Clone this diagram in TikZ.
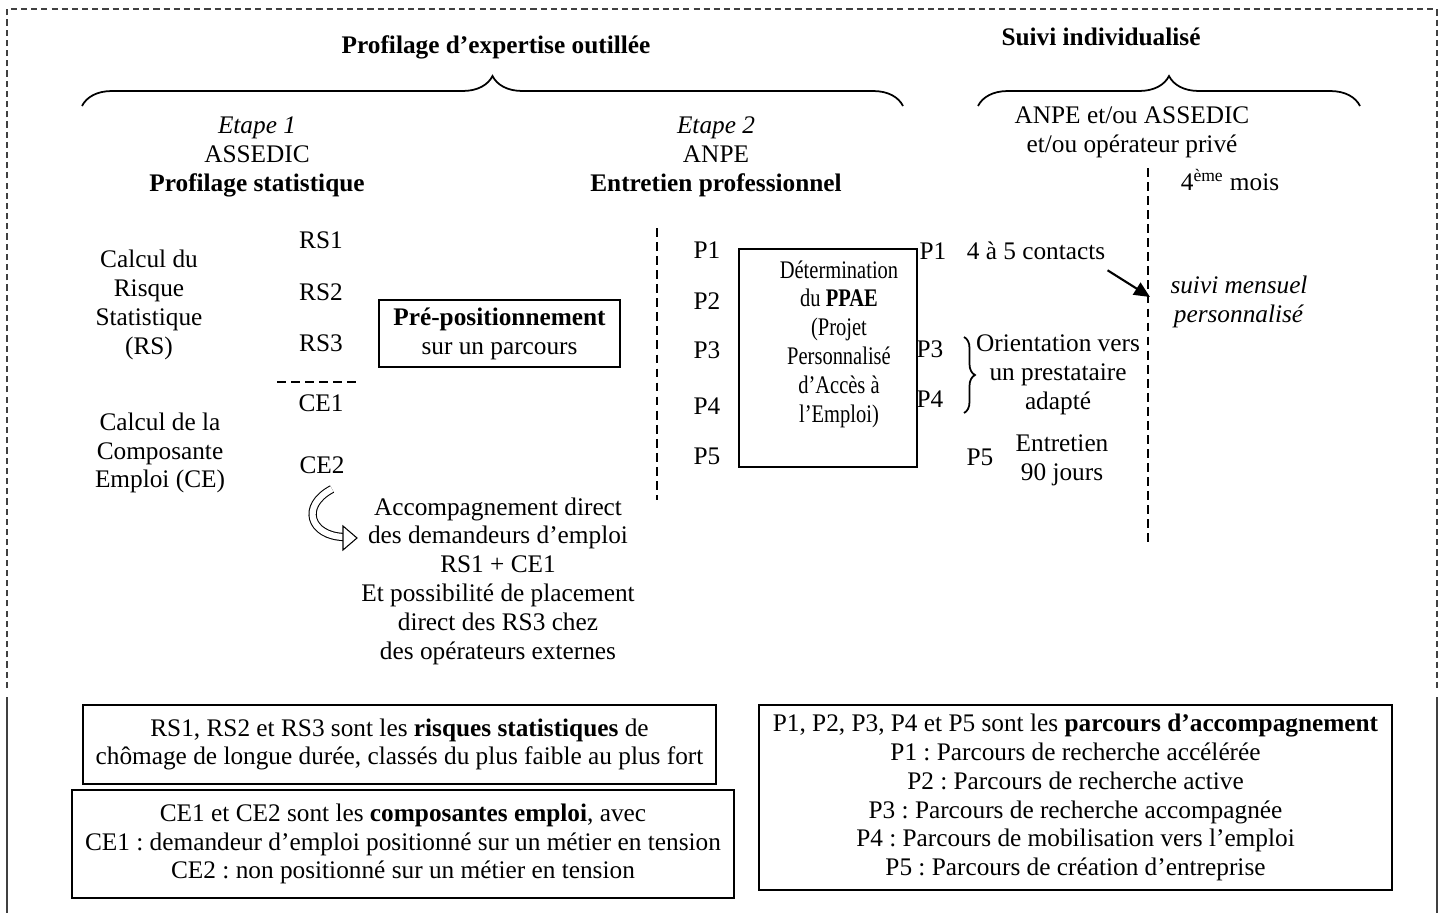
\documentclass[tikz,border=0pt]{standalone}
\usepackage{fontspec}
\setmainfont{Liberation Serif}
\newfontfamily\etroit[FakeStretch=0.81]{Liberation Serif}
\usetikzlibrary{arrows.meta,decorations.pathreplacing}
\frenchspacing

\begin{document}
\begin{tikzpicture}[x=0.02cm, y=-0.02cm,
    every node/.style={inner sep=0pt, align=center, font=\fontsize{14.4}{16.4}\selectfont},
    boite/.style={draw, line width=1pt},
    tirets/.style={line width=0.8pt, dash pattern=on 5pt off 3pt},
    cadre/.style={line width=0.6pt, black!75},
    accolade/.style={decorate, decoration={brace, amplitude=#1}, line width=1pt},
  ]
  \useasboundingbox (0,0) rectangle (1444,913);

  % Cadre
  \draw[cadre, dash pattern=on 3.5pt off 2.3pt] (7,688) -- (7,9) -- (1437,9) -- (1437,688);
  \draw[cadre] (7,697) -- (7,913) (1437,697) -- (1437,913);

  % En-tetes et accolades
  \node (profil) at (496,47) {\textbf{Profilage d’expertise outillée}};
  \node (suivi) at (1101,37) {\textbf{Suivi individualisé}};
  \draw[accolade=0.6cm] (82,106) -- (903,106);
  \draw[accolade=0.6cm] (978,106) -- (1360,106);

  \node (etape1) at (257,157) {\textit{Etape 1}\\ASSEDIC\\\textbf{Profilage statistique}};
  \node (etape2) at (716,157) {\textit{Etape 2}\\ANPE\\\textbf{Entretien professionnel}};
  \node (acteurs) at (1132,132) {ANPE et/ou ASSEDIC\\et/ou opérateur privé};
  \node (mois4) at (1230,180) {4\textsuperscript{ème} mois};

  % Etape 1
  \node (calculrs) at (149,305) {Calcul du\\Risque\\Statistique\\(RS)};
  \node (calculce) at (160,453) {Calcul de la\\Composante\\Emploi (CE)};
  \node (rs1) at (321,240) {RS1};
  \node (rs2) at (321,292) {RS2};
  \node (rs3) at (321,343) {RS3};
  \node (ce1) at (321,403) {CE1};
  \node (ce2) at (322,465) {CE2};
  \draw[tirets] (277,382) -- (358,382);
  \node[boite, minimum width=4.82cm, minimum height=1.34cm] (prepos) at (499.5,333.5)
    {\textbf{Pré-positionnement}\\sur un parcours};
  \node (accomp) at (498,581) {Accompagnement direct\\des demandeurs d’emploi\\RS1 + CE1\\Et possibilité de placement\\direct des RS3 chez\\des opérateurs externes};
  % fleche creuse
  \draw[line width=0.6pt, double=white, double distance=3.5pt] (332,489) .. controls (300,506) and (310,536) .. (344,537);
  \draw[line width=0.6pt, fill=white] (343,526) -- (357,538) -- (343,550) -- cycle;

  % Etape 2
  \draw[tirets] (657,228) -- (657,500);
  \foreach \i/\y in {1/250,2/301,3/350,4/406,5/456}
    \node (pl\i) at (707,\y) {P\i};
  \node[boite, minimum width=3.56cm, minimum height=4.36cm] (ppaebox) at (828,358) {};
  \node[font=\etroit\fontsize{14.4}{16.4}\selectfont] (ppae) at (839,344)
    {Détermination\\du \textbf{PPAE}\\(Projet\\Personnalisé\\d’Accès à\\l’Emploi)};

  % Suivi
  \node (pr1) at (933,251) {P1};
  \node (contacts) at (1036,251) {4 à 5 contacts};
  \node (pr3) at (930,349) {P3};
  \node (pr4) at (930,399) {P4};
  \draw[accolade=0.22cm] (964,337) -- (964,413);
  \node (orient) at (1058,375) {Orientation vers\\un prestataire\\adapté};
  \node (pr5) at (980,457) {P5};
  \node (entretien) at (1062,460) {Entretien\\90 jours};
  \draw[tirets] (1148,168) -- (1148,543);
  \coordinate (pointe) at (1150,297);
  \node (mensuel) at (1239,302) {\textit{suivi mensuel}\\\textit{personnalisé}};
  \draw[line width=1.2pt, -{Triangle[length=9pt,width=8pt]}] ([shift={(2,10)}]contacts.south east) -- (pointe);

  % Legendes
  \node[boite, minimum width=12.66cm, minimum height=1.58cm] (legrs) at (399.5,744.5)
    {RS1, RS2 et RS3 sont les \textbf{risques statistiques} de\\chômage de longue durée, classés du plus faible au plus fort};
  \node[boite, minimum width=13.24cm, minimum height=2.16cm] (legce) at (403,844)
    {CE1 et CE2 sont les \textbf{composantes emploi}, avec\\CE1 : demandeur d’emploi positionné sur un métier en tension\\CE2 : non positionné sur un métier en tension};
  \node[boite, minimum width=12.66cm, minimum height=3.7cm] (legp) at (1075.5,797.5)
    {P1, P2, P3, P4 et P5 sont les \textbf{parcours d’accompagnement}\\P1 : Parcours de recherche accélérée\\P2 : Parcours de recherche active\\P3 : Parcours de recherche accompagnée\\P4 : Parcours de mobilisation vers l’emploi\\P5 : Parcours de création d’entreprise};
\end{tikzpicture}
\end{document}
